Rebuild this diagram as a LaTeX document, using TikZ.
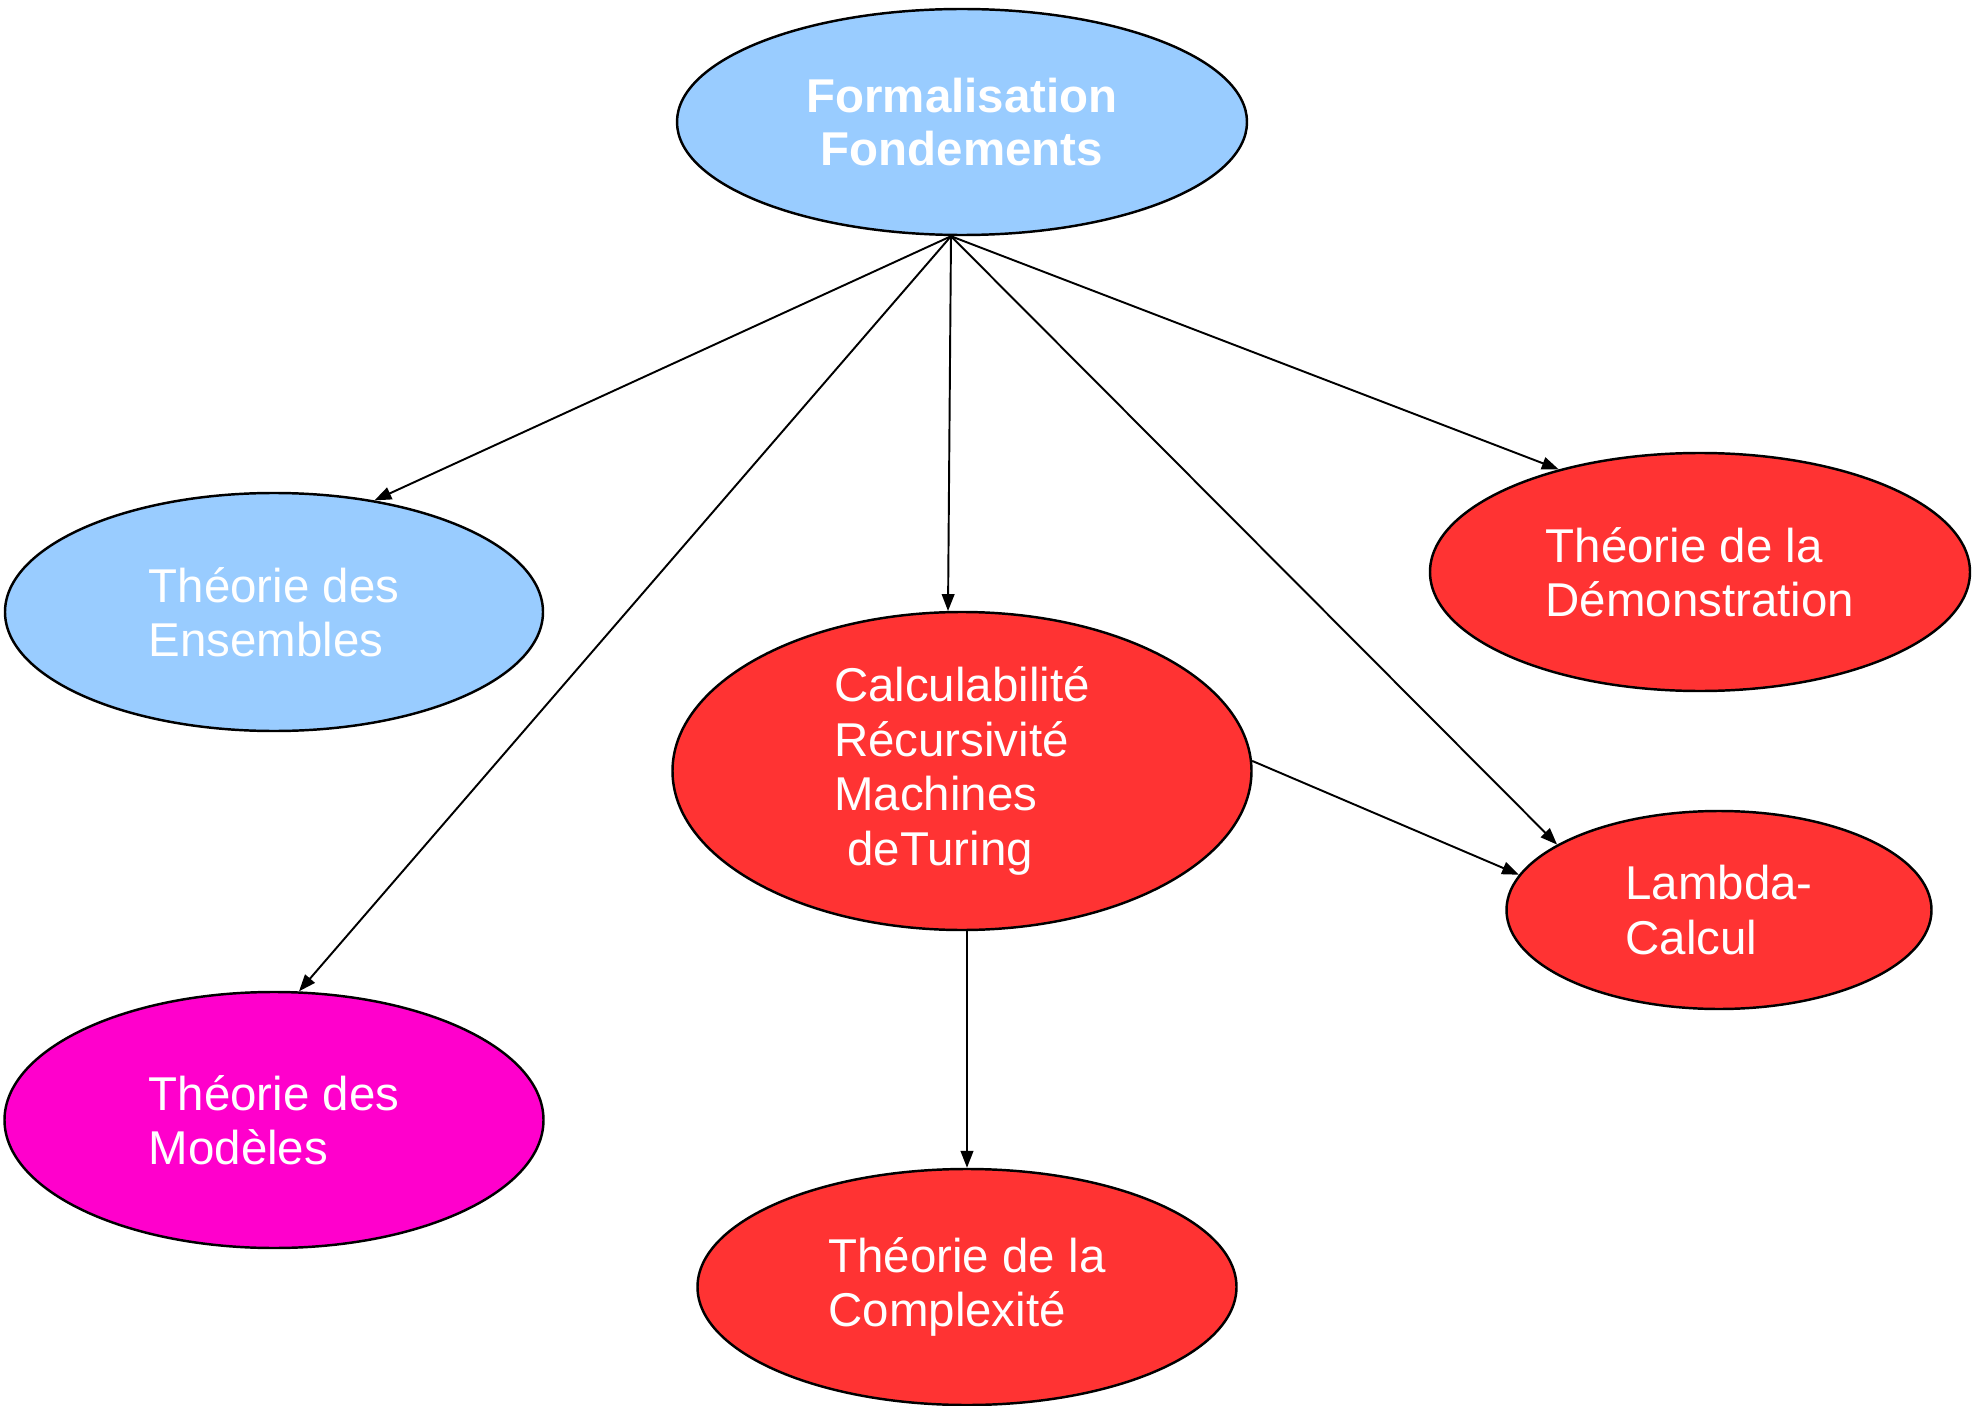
\documentclass[tikz,border=0pt]{standalone}
\usepackage{tikz}
\usetikzlibrary{shapes.geometric,arrows.meta}
\usepackage{fontspec}
\setmainfont{Liberation Sans}
\definecolor{skyblue}{HTML}{99CCFF}
\definecolor{hotred}{HTML}{FF3333}
\definecolor{magenta}{HTML}{FF00CC}

\begin{document}
\begin{tikzpicture}[
  topic/.style={ellipse, draw, line width=0.7pt, fill=#1, inner sep=0pt, align=left, text=white, font=\fontsize{13.5}{15.5}\selectfont},
  arr/.style={-{Triangle[length=4.8pt,width=3.6pt]}, line width=0.55pt}
]
  \useasboundingbox (0,0) rectangle (19.88,-14.06);
  \node[topic=skyblue, minimum width=5.70cm, minimum height=2.26cm, align=center, font=\fontsize{13.5}{15}\selectfont\bfseries] (top) at (9.62,-1.22) {Formalisation\\Fondements};
  \node[topic=skyblue, minimum width=5.38cm, minimum height=2.38cm] (ens)  at (2.74,-6.12)  {Théorie des\\Ensembles};
  \node[topic=hotred,  minimum width=5.40cm, minimum height=2.38cm] (dem)  at (17.00,-5.72) {Théorie de la\\Démonstration};
  \node[topic=hotred,  minimum width=5.79cm, minimum height=3.18cm] (calc) at (9.62,-7.71)  {Calculabilité\\Récursivité\\Machines\\\hspace*{0.28em}deTuring};
  \node[topic=hotred,  minimum width=4.25cm, minimum height=1.98cm] (lam)  at (17.19,-9.10) {Lambda-\\Calcul};
  \node[topic=magenta, minimum width=5.39cm, minimum height=2.56cm] (mod)  at (2.74,-11.20) {Théorie des\\Modèles};
  \node[topic=hotred,  minimum width=5.39cm, minimum height=2.36cm] (comp) at (9.67,-12.87) {Théorie de la\\Complexité};
  \coordinate (src) at ([xshift=-0.11cm]top.south);
  % arrows from the root
  \draw[arr] (src) -- (ens.48);
  \draw[arr] (src) -- (mod.79);
  \draw[arr] (src) -- (calc.95);
  \draw[arr] (src) -- (lam.158);
  \draw[arr] (src) -- (dem.144);
  \draw[arr] (calc.2) -- (lam.170);
  \draw[arr] (calc.south -| comp.north) -- (comp.north);
\end{tikzpicture}
\end{document}
